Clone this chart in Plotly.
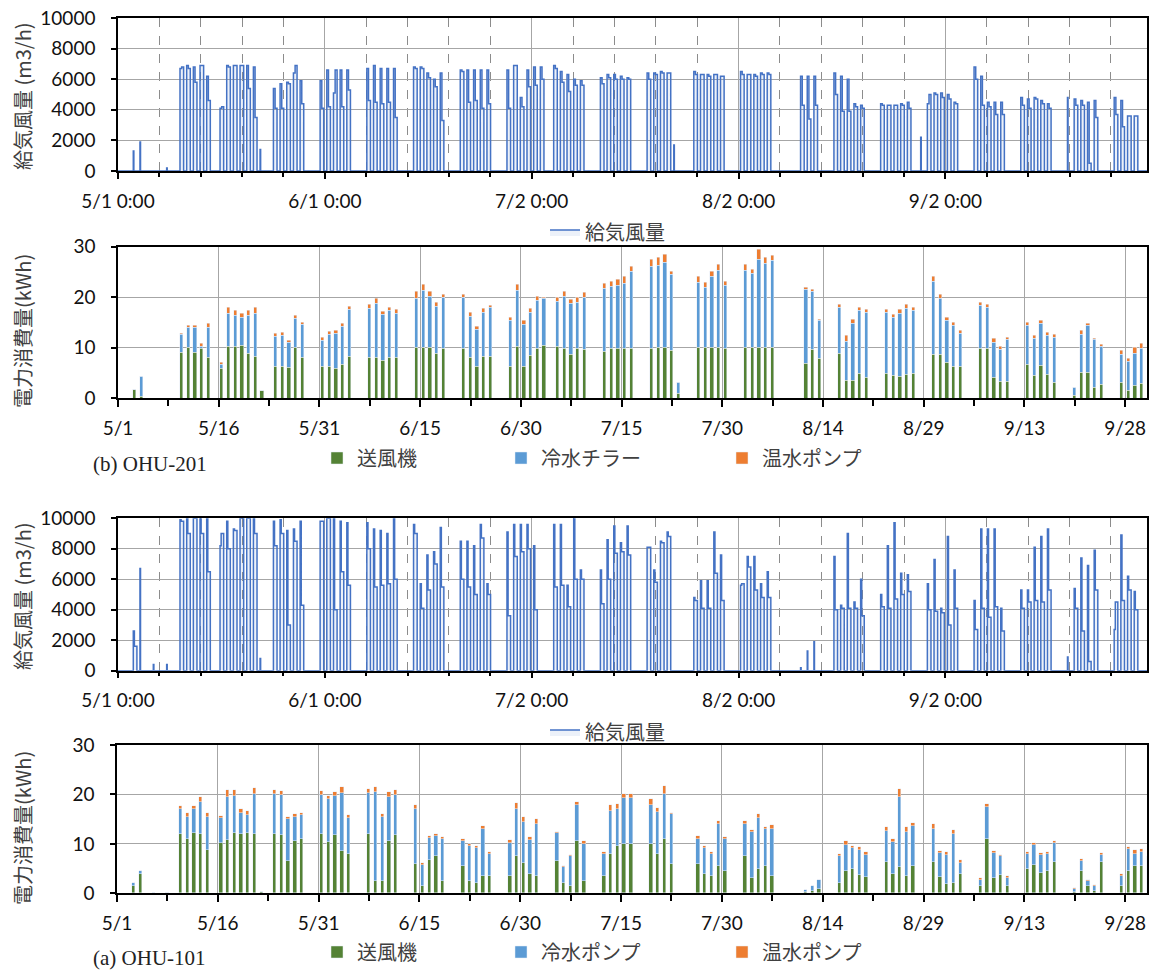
import pandas as pd
import plotly.graph_objects as go

YEAR = 2021

# ---------------- OHU-201 ----------------
dates201 = ["5/3", "5/4", "5/8",
            "5/10", "5/11", "5/12", "5/13", "5/14",
            "5/16", "5/17", "5/18", "5/19", "5/20", "5/21", "5/22",
            "5/24", "5/25", "5/26", "5/27", "5/28",
            "5/31", "6/1", "6/2", "6/3", "6/4",
            "6/7", "6/8", "6/9", "6/10", "6/11",
            "6/14", "6/15", "6/16", "6/17", "6/18",
            "6/21", "6/22", "6/23", "6/24", "6/25",
            "6/28", "6/29", "6/30", "7/1", "7/2", "7/3",
            "7/5", "7/6", "7/7", "7/8", "7/9",
            "7/12", "7/13", "7/14", "7/15", "7/16",
            "7/19", "7/20", "7/21", "7/22", "7/23",
            "7/26", "7/27", "7/28", "7/29", "7/30",
            "8/2", "8/3", "8/4", "8/5", "8/6",
            "8/11", "8/12", "8/13",
            "8/16", "8/17", "8/18", "8/19", "8/20",
            "8/23", "8/24", "8/25", "8/26", "8/27",
            "8/29", "8/30", "8/31", "9/1", "9/2", "9/3",
            "9/6", "9/7", "9/8", "9/9", "9/10",
            "9/13", "9/14", "9/15", "9/16", "9/17",
            "9/20", "9/21", "9/22", "9/23", "9/24",
            "9/27", "9/28", "9/29", "9/30"]
# supply air flow (m3/h): level in the first part / second part of the operating day
flow201_am = [1300, 1900, 200,
              6700, 6900, 6800, 6900, 6200,
              4100, 6900, 6900, 6900, 6900, 6800, 1400,
              5400, 5700, 5800, 6400, 5900,
              5900, 6600, 5100, 6600, 6600,
              6700, 6900, 6700, 6700, 6700,
              6800, 6800, 6400, 6000, 6400,
              6600, 6600, 6600, 6600, 6600,
              6600, 6900, 4800, 6600, 6800, 6800,
              6900, 6500, 6300, 6000, 5900,
              6100, 6300, 6300, 6200, 6100,
              6400, 6400, 6500, 6400, 1700,
              6500, 6300, 6300, 6300, 6200,
              6500, 6300, 6300, 6400, 6400,
              6200, 6200, 6200,
              6400, 6200, 6000, 4400, 4300,
              4400, 4300, 4300, 4400, 4500,
              2200, 4400, 5100, 5100, 5000, 4500,
              6800, 6200, 4500, 4500, 4500,
              4800, 4700, 4800, 4600, 4400,
              4800, 4700, 4600, 4500, 4600,
              4800, 4600, 3600, 3600]
flow201_pm = [0, 0, 0,
              6800, 6700, 5800, 6900, 4600,
              4200, 6800, 6900, 6900, 5400, 3500, 0,
              4100, 4100, 5700, 6900, 4400,
              4100, 4200, 6600, 4200, 5300,
              4600, 4500, 4400, 4500, 3500,
              6700, 6700, 6100, 5500, 3300,
              6500, 4500, 4600, 4100, 4400,
              4100, 6900, 4200, 5500, 5600, 6000,
              6700, 5800, 5200, 5600, 5600,
              5700, 6100, 6000, 6000, 6000,
              6000, 6300, 6400, 6400, 0,
              6300, 6300, 6200, 6300, 6200,
              6300, 6300, 6200, 6300, 6300,
              4300, 3400, 4300,
              5000, 3900, 3900, 4200, 4100,
              4300, 4300, 4300, 4300, 4100,
              0, 5000, 5000, 4800, 4700, 4400,
              6000, 4300, 4200, 3700, 3700,
              4300, 4100, 4700, 4400, 4100,
              0, 4300, 4300, 500, 3500,
              3700, 2900, 3600, 3600]
# electricity (kWh): fan / chiller / hot-water pump
fan201 = [1.8, 0.3, 0,
          9.0, 10.0, 9.0, 9.8, 8.0,
          5.8, 10.2, 10.3, 10.4, 8.8, 8.2, 1.5,
          6.2, 6.2, 6.0, 10.0, 8.0,
          6.2, 6.2, 5.8, 6.6, 8.3,
          8.1, 8.0, 7.5, 8.0, 8.0,
          10.0, 10.0, 10.0, 8.8, 9.8,
          9.8, 8.0, 6.3, 8.2, 8.2,
          6.3, 10.3, 6.3, 8.5, 9.8, 10.5,
          10.2, 9.8, 8.6, 9.8, 9.6,
          9.2, 9.8, 9.8, 9.8, 9.8,
          9.8, 10.0, 10.0, 9.5, 1.0,
          10.0, 10.0, 10.0, 10.0, 9.8,
          10.0, 10.0, 10.0, 10.0, 10.0,
          6.9, 9.6, 7.9,
          8.8, 3.5, 3.5, 4.8, 4.0,
          4.9, 4.5, 4.3, 4.7, 4.8,
          0, 8.6, 8.6, 7.1, 6.3, 6.2,
          9.8, 9.8, 4.1, 3.3, 3.3,
          6.6, 4.4, 6.4, 4.6, 3.0,
          0.5, 5.0, 5.1, 2.0, 2.7,
          3.1, 1.5, 2.5, 2.9]
chiller201 = [0, 4.0, 0,
              3.5, 4.0, 5.0, 0.5, 6.0,
              0.8, 6.5, 6.0, 5.5, 7.5, 8.5, 0,
              6.0, 6.2, 5.0, 5.7, 6.5,
              5.2, 6.4, 7.0, 7.5, 9.2,
              9.6, 10.8, 9.0, 9.3, 8.8,
              9.8, 11.2, 10.2, 9.4, 10.2,
              10.2, 8.2, 7.2, 8.8, 9.7,
              9.0, 11.0, 8.2, 8.4, 9.5, 9.3,
              9.0, 10.3, 10.2, 9.2, 10.4,
              12.5, 12.2, 12.4, 12.8, 15.2,
              16.2, 16.2, 16.8, 15.0, 2.0,
              12.8, 11.8, 14.0, 15.3, 12.4,
              15.2, 14.7, 17.5, 16.6, 17.2,
              14.5, 11.5, 7.5,
              9.2, 7.8, 11.3, 12.5, 13.0,
              12.0, 11.5, 12.5, 13.1, 12.5,
              0, 14.5, 11.2, 8.3, 8.0, 6.5,
              8.5, 8.2, 7.0, 6.3, 8.2,
              7.8, 7.3, 8.3, 7.8, 8.9,
              1.5, 7.6, 9.2, 9.5, 7.5,
              5.6, 5.8, 6.3, 6.9]
hot201 = [0, 0, 0,
          0.3, 0.3, 0.4, 0.5, 0.8,
          0.4, 1.2, 1.0, 0.8, 1.0, 1.3, 0,
          0.5, 0.5, 0.4, 0.6, 0.5,
          0.6, 0.6, 0.5, 0.6, 0.7,
          0.8, 0.9, 0.6, 0.7, 0.7,
          1.3, 1.3, 0.9, 0.8, 0.5,
          0.5, 0.8, 0.6, 0.7, 0.5,
          0.7, 1.2, 0.9, 0.8, 0.9, 0.2,
          0.8, 0.9, 0.7, 1.0, 0.8,
          1.0, 1.0, 1.3, 1.4, 1.0,
          1.5, 1.6, 1.7, 0.6, 0.1,
          1.2, 1.0, 1.0, 1.2, 0.8,
          1.2, 0.8, 2.0, 1.2, 1.0,
          0.5, 0.3, 0.2,
          0.5, 1.0, 0.7, 0.7, 0.5,
          0.6, 0.5, 0.7, 0.7, 0.7,
          0, 0.9, 0.7, 0.6, 0.7, 0.6,
          0.7, 0.5, 0.6, 0.6, 0.5,
          0.6, 0.6, 0.7, 0.6, 0.6,
          0, 0.7, 0.5, 0.3, 0.4,
          0.8, 0.5, 1.2, 1.0]

# ---------------- OHU-101 ----------------
dates101 = ["5/3", "5/4", "5/6", "5/8",
            "5/10", "5/11", "5/12", "5/13", "5/14",
            "5/16", "5/17", "5/18", "5/19", "5/20", "5/21", "5/22",
            "5/24", "5/25", "5/26", "5/27", "5/28",
            "5/31", "6/1", "6/2", "6/3", "6/4",
            "6/7", "6/8", "6/9", "6/10", "6/11",
            "6/14", "6/15", "6/16", "6/17", "6/18",
            "6/21", "6/22", "6/23", "6/24", "6/25",
            "6/28", "6/29", "6/30", "7/1", "7/2",
            "7/5", "7/6", "7/7", "7/8", "7/9",
            "7/12", "7/13", "7/14", "7/15", "7/16",
            "7/19", "7/20", "7/21", "7/22",
            "7/26", "7/27", "7/28", "7/29", "7/30",
            "8/2", "8/3", "8/4", "8/5", "8/6",
            "8/11", "8/12", "8/13",
            "8/16", "8/17", "8/18", "8/19", "8/20",
            "8/23", "8/24", "8/25", "8/26", "8/27",
            "8/30", "8/31", "9/1", "9/2", "9/3",
            "9/6", "9/7", "9/8", "9/9", "9/10",
            "9/13", "9/14", "9/15", "9/16", "9/17",
            "9/20", "9/21", "9/22", "9/23", "9/24",
            "9/27", "9/28", "9/29", "9/30", "10/1"]
flow101_am = [2600, 6700, 400, 400,
              9900, 10000, 10000, 10000, 10000,
              8200, 9800, 9300, 10000, 10000, 10000, 800,
              9800, 9900, 9200, 9300, 9800,
              9800, 10000, 10000, 9800, 9700,
              9700, 9300, 9200, 9000, 10000,
              9600, 5700, 7600, 7800, 9400,
              8500, 8500, 8200, 9600, 5700,
              9100, 9600, 9600, 9600, 8200,
              9600, 9600, 5600, 10000, 6600,
              6600, 8600, 9500, 8400, 9500,
              8100, 6600, 8500, 9100,
              4800, 5900, 5900, 9100, 7600,
              5600, 7500, 7500, 5700, 6500,
              200, 1300, 1900,
              7500, 4300, 9000, 4500, 6000,
              5000, 8200, 9700, 6400, 6300,
              5700, 7300, 4100, 8800, 6600,
              4600, 9300, 9300, 9300, 4100,
              5300, 5300, 8100, 8800, 9300,
              900, 5400, 7400, 6900, 7900,
              2700, 8900, 6200, 5200, 0]
flow101_pm = [1600, 0, 0, 0,
              9800, 9000, 10000, 9000, 6500,
              9000, 8000, 9200, 10000, 10000, 9000, 0,
              8200, 9000, 3000, 8500, 4300,
              9800, 10000, 4000, 6500, 5600,
              8000, 5500, 5600, 5700, 6000,
              9000, 4100, 5300, 7000, 5500,
              6000, 5500, 5000, 8700, 5000,
              3600, 7500, 7800, 8000, 4000,
              5500, 5600, 4200, 6000, 6000,
              4400, 6000, 7700, 7800, 7600,
              8100, 5800, 8400, 8800,
              4600, 4100, 4100, 6400, 4600,
              5700, 6800, 5300, 4800, 4800,
              0, 0, 0,
              4000, 4100, 4100, 4100, 3600,
              4200, 4100, 4700, 5000, 5200,
              4000, 3900, 3800, 3000, 4100,
              2700, 4100, 3500, 4200, 2600,
              4100, 4500, 4600, 4500, 5300,
              0, 4100, 2600, 600, 5300,
              4500, 4600, 5300, 4000, 0]
fan101 = [1.5, 4.0, 0, 0,
          12.0, 11.0, 12.2, 12.0, 8.7,
          10.2, 10.8, 12.1, 12.0, 12.1, 11.9, 0.3,
          11.9, 11.8, 6.5, 10.5, 11.0,
          12.0, 10.4, 11.8, 8.5, 8.0,
          12.0, 2.5, 2.5, 10.5, 11.8,
          6.0, 1.5, 6.7, 7.5, 2.5,
          5.5, 2.5, 2.0, 3.5, 3.5,
          3.5, 7.5, 6.2, 4.0, 3.5,
          6.5, 2.0, 1.5, 10.5, 2.5,
          3.5, 8.0, 9.5, 10.0, 10.0,
          10.0, 8.0, 11.0, 6.0,
          6.0, 4.0, 3.5, 5.5, 4.5,
          7.5, 3.0, 5.0, 5.5, 3.5,
          0.3, 0.5, 0.8,
          2.0, 4.5, 5.0, 3.8, 3.3,
          6.3, 4.0, 5.3, 3.4, 5.6,
          6.3, 3.2, 1.8, 2.0, 4.0,
          1.5, 11.0, 3.0, 3.8, 1.5,
          5.0, 5.8, 4.1, 4.5, 6.3,
          0.3, 4.5, 1.5, 0.5, 6.3,
          1.5, 4.5, 5.5, 5.5, 5.0]
chiller101 = [0.5, 0.5, 0, 0,
              5.0, 4.5, 4.8, 6.5, 6.8,
              5.0, 8.7, 7.6, 4.3, 3.8, 8.2, 0,
              8.2, 8.0, 8.5, 5.0, 4.8,
              7.8, 8.6, 7.8, 11.7, 7.3,
              8.3, 18.0, 13.0, 9.0, 8.0,
              11.0, 4.2, 4.5, 4.0, 8.5,
              5.0, 7.0, 7.2, 9.5, 4.5,
              6.6, 9.5, 8.3, 6.8, 10.5,
              5.7, 3.3, 6.0, 7.3, 7.5,
              4.5, 8.7, 7.5, 9.2, 9.3,
              7.8, 8.5, 9.0, 10.0,
              5.0, 5.2, 4.5, 8.5, 6.5,
              6.5, 9.5, 10.2, 7.5, 9.5,
              0.4, 1.0, 1.8,
              5.5, 5.2, 4.2, 5.0, 4.5,
              6.4, 6.3, 14.2, 9.0, 8.0,
              6.8, 4.9, 6.0, 10.0, 2.2,
              1.2, 6.5, 5.1, 3.7, 1.6,
              3.0, 4.0, 3.7, 3.5, 3.8,
              0.6, 2.0, 0.9, 1.0, 1.5,
              2.0, 4.5, 2.5, 2.8, 2.0]
hot101 = [0, 0, 0, 0,
          0.6, 0.8, 0.7, 1.0, 0.8,
          0.5, 1.3, 1.2, 0.7, 0.7, 1.2, 0,
          0.7, 0.8, 0.5, 0.6, 0.5,
          0.8, 0.7, 0.8, 1.3, 0.5,
          0.9, 1.0, 0.5, 1.0, 1.0,
          0.8, 0.5, 0.3, 0.4, 0.3,
          0.5, 0.4, 0.3, 0.6, 0.3,
          0.6, 1.2, 0.9, 0.6, 1.0,
          0.3, 0.2, 0.3, 0.7, 0.6,
          0.4, 1.2, 1.0, 0.8, 0.8,
          1.2, 0.8, 1.8, 0.3,
          0.5, 0.4, 0.3, 0.6, 0.3,
          0.6, 0.4, 0.8, 0.5, 0.8,
          0, 0, 0,
          0.5, 0.8, 0.3, 0.5, 0.5,
          0.8, 0.7, 1.5, 1.0, 0.7,
          0.9, 0.4, 0.5, 0.8, 0.5,
          0.3, 0.5, 0.4, 0.3, 0.3,
          0.4, 0.4, 0.4, 0.3, 0.4,
          0.1, 0.5, 0.2, 0.1, 0.3,
          0.5, 0.3, 0.8, 0.6, 0.5]

# ---------------- helpers / style ----------------
W, H = 1151, 972
ON_H, OFF_H, SPIKE_H = 7, 20, 2
T0 = pd.Timestamp(f"{YEAR}-05-01")
FLOW_END = pd.Timestamp(f"{YEAR}-10-02 05:00")
BAR_END = pd.Timestamp(f"{YEAR}-10-01 06:00")
DAY_MS = 86400000

LINE_C = "#4472C4"
GREEN, BLUE, ORANGE = "#548235", "#5B9BD5", "#ED7D31"
GRID_C = "#a6a6a6"
CJK = "Noto Sans CJK JP"
NUM = "Lato"


def to_dates(md):
    return [pd.Timestamp(f"{YEAR}-{s.split('/')[0]}-{s.split('/')[1]}") for s in md]


def flow_xy(dates, am, pm, split_h):
    xs, ys = [T0], [0]
    for d, a, p in zip(to_dates(dates), am, pm):
        if a == 0 and p == 0:
            continue
        on = d + pd.Timedelta(hours=ON_H)
        if p > 0:
            mid = d + pd.Timedelta(hours=split_h)
            off = d + pd.Timedelta(hours=OFF_H)
            xs += [on, on, mid, mid, off, off]
            ys += [0, a, a, p, p, 0]
        else:
            off = on + pd.Timedelta(hours=SPIKE_H)
            xs += [on, on, off, off]
            ys += [0, a, a, 0]
    xs.append(FLOW_END)
    ys.append(0)
    return xs, ys


def bar_x(dates):
    return [d + pd.Timedelta(hours=11) for d in to_dates(dates)]


fig = go.Figure()

# panel 1 : OHU-201 flow
x1, y1 = flow_xy(dates201, flow201_am, flow201_pm, 13)
fig.add_trace(go.Scatter(x=x1, y=y1, mode="lines", name="給気風量",
                         line=dict(color=LINE_C, width=1.5),
                         fill="tozeroy", fillcolor="rgba(68,114,196,0.10)",
                         xaxis="x", yaxis="y", legend="legend"))
# panel 2 : OHU-201 power
bw = 0.5 * DAY_MS
fig.add_trace(go.Bar(x=bar_x(dates201), y=fan201, name="送風機", marker_color=GREEN,
                     width=bw, xaxis="x2", yaxis="y2", legend="legend2"))
fig.add_trace(go.Bar(x=bar_x(dates201), y=chiller201, name="冷水チラー", marker_color=BLUE,
                     width=bw, xaxis="x2", yaxis="y2", legend="legend3"))
fig.add_trace(go.Bar(x=bar_x(dates201), y=hot201, name="温水ポンプ", marker_color=ORANGE,
                     width=bw, xaxis="x2", yaxis="y2", legend="legend4"))
# panel 3 : OHU-101 flow
x3, y3 = flow_xy(dates101, flow101_am, flow101_pm, 11)
fig.add_trace(go.Scatter(x=x3, y=y3, mode="lines", name="給気風量",
                         line=dict(color=LINE_C, width=1.5),
                         fill="tozeroy", fillcolor="rgba(68,114,196,0.10)",
                         xaxis="x3", yaxis="y3", legend="legend5"))
# panel 4 : OHU-101 power
fig.add_trace(go.Bar(x=bar_x(dates101), y=fan101, name="送風機", marker_color=GREEN,
                     width=bw, xaxis="x4", yaxis="y4", legend="legend6"))
fig.add_trace(go.Bar(x=bar_x(dates101), y=chiller101, name="冷水ポンプ", marker_color=BLUE,
                     width=bw, xaxis="x4", yaxis="y4", legend="legend7"))
fig.add_trace(go.Bar(x=bar_x(dates101), y=hot101, name="温水ポンプ", marker_color=ORANGE,
                     width=bw, xaxis="x4", yaxis="y4", legend="legend8"))

tickfont = dict(family=NUM, size=19, color="#111111")


def ydom(top, bottom):
    return [1 - bottom / H, 1 - top / H]


def flow_xaxis(anchor, left):
    return dict(domain=[left / W, 1147 / W], anchor=anchor, type="date", automargin=False,
                range=[T0, FLOW_END], tick0=T0, dtick=31 * DAY_MS,
                tickformat="%-m/%-d %-H:%M", tickfont=tickfont, ticklabelstandoff=6,
                showgrid=True, gridcolor=GRID_C, gridwidth=1.3,
                ticks="outside", ticklen=6, tickcolor="black", tickwidth=1.5,
                showline=True, linecolor="black", linewidth=1.5, mirror=True,
                minor=dict(tick0=T0, dtick=6.2 * DAY_MS, showgrid=True,
                           gridcolor="#8c8c8c", griddash="dash", gridwidth=1,
                           ticks="outside", ticklen=4, tickcolor="black"),
                zeroline=False)


def bar_xaxis(anchor, left):
    return dict(domain=[left / W, 1147 / W], anchor=anchor, type="date", automargin=False,
                range=[T0, BAR_END], tick0=T0, dtick=15 * DAY_MS,
                tickformat="%-m/%-d", tickfont=tickfont, ticklabelstandoff=5,
                showgrid=True, gridcolor=GRID_C, gridwidth=1.3,
                ticks="outside", ticklen=7, tickcolor="black", tickwidth=1.5,
                showline=True, linecolor="black", linewidth=1.5, mirror=True,
                minor=dict(tick0=T0, dtick=7.5 * DAY_MS, showgrid=False,
                           ticks="outside", ticklen=6, tickcolor="black"),
                zeroline=False)


def yaxis(anchor, dom, rng, dt):
    return dict(domain=dom, anchor=anchor, range=rng, dtick=dt, tickfont=tickfont,
                tickformat="d", automargin=False,
                showgrid=True, gridcolor=GRID_C, gridwidth=1.3,
                ticks="outside", ticklen=5, tickcolor="black", tickwidth=1.5,
                ticklabelstandoff=12,
                showline=True, linecolor="black", linewidth=1.5, mirror=True,
                zeroline=False)


def legend_at(xpx, ypx):
    return dict(orientation="h", x=xpx / W, y=1 - ypx / H, xanchor="left", yanchor="middle",
                bgcolor="rgba(0,0,0,0)", borderwidth=0, itemwidth=30,
                font=dict(family=CJK, size=20, color="#404040"))


fig.update_layout(
    width=W, height=H, margin=dict(l=0, r=0, t=0, b=0, autoexpand=False),
    paper_bgcolor="white", plot_bgcolor="white",
    barmode="stack", bargap=0, showlegend=True,
    xaxis=flow_xaxis("y", 118),
    yaxis=yaxis("x", ydom(18, 171), [0, 10000], 2000),
    xaxis2=bar_xaxis("y2", 118),
    yaxis2=yaxis("x2", ydom(246.7, 398.3), [0, 30], 10),
    xaxis3=flow_xaxis("y3", 118),
    yaxis3=yaxis("x3", ydom(518.3, 670.7), [0, 10000], 2000),
    xaxis4=bar_xaxis("y4", 117),
    yaxis4=yaxis("x4", ydom(745, 893.3), [0, 30], 10),
    legend=legend_at(545, 232),
    legend2=legend_at(317, 458),
    legend3=legend_at(501, 458),
    legend4=legend_at(722, 458),
    legend5=legend_at(545, 732),
    legend6=legend_at(317, 952),
    legend7=legend_at(501, 952),
    legend8=legend_at(722, 952),
)

ytitle_font = dict(family=CJK, size=20, color="#404040")
for text, ypx in [("給気風量 (m3/h)", 96), ("電力消費量(kWh)", 331),
                  ("給気風量 (m3/h)", 596), ("電力消費量(kWh)", 828)]:
    fig.add_annotation(text=text, xref="paper", yref="paper", x=22 / W, y=1 - ypx / H,
                       xanchor="center", yanchor="middle", textangle=-90,
                       showarrow=False, font=ytitle_font)

for text, ypx in [("(b) OHU-201", 464), ("(a) OHU-101", 958)]:
    fig.add_annotation(text=text, xref="paper", yref="paper", x=91 / W, y=1 - ypx / H,
                       xanchor="left", yanchor="middle", showarrow=False,
                       font=dict(family="Liberation Serif", size=21, color="#222222"))

fig.write_html("out.html")
